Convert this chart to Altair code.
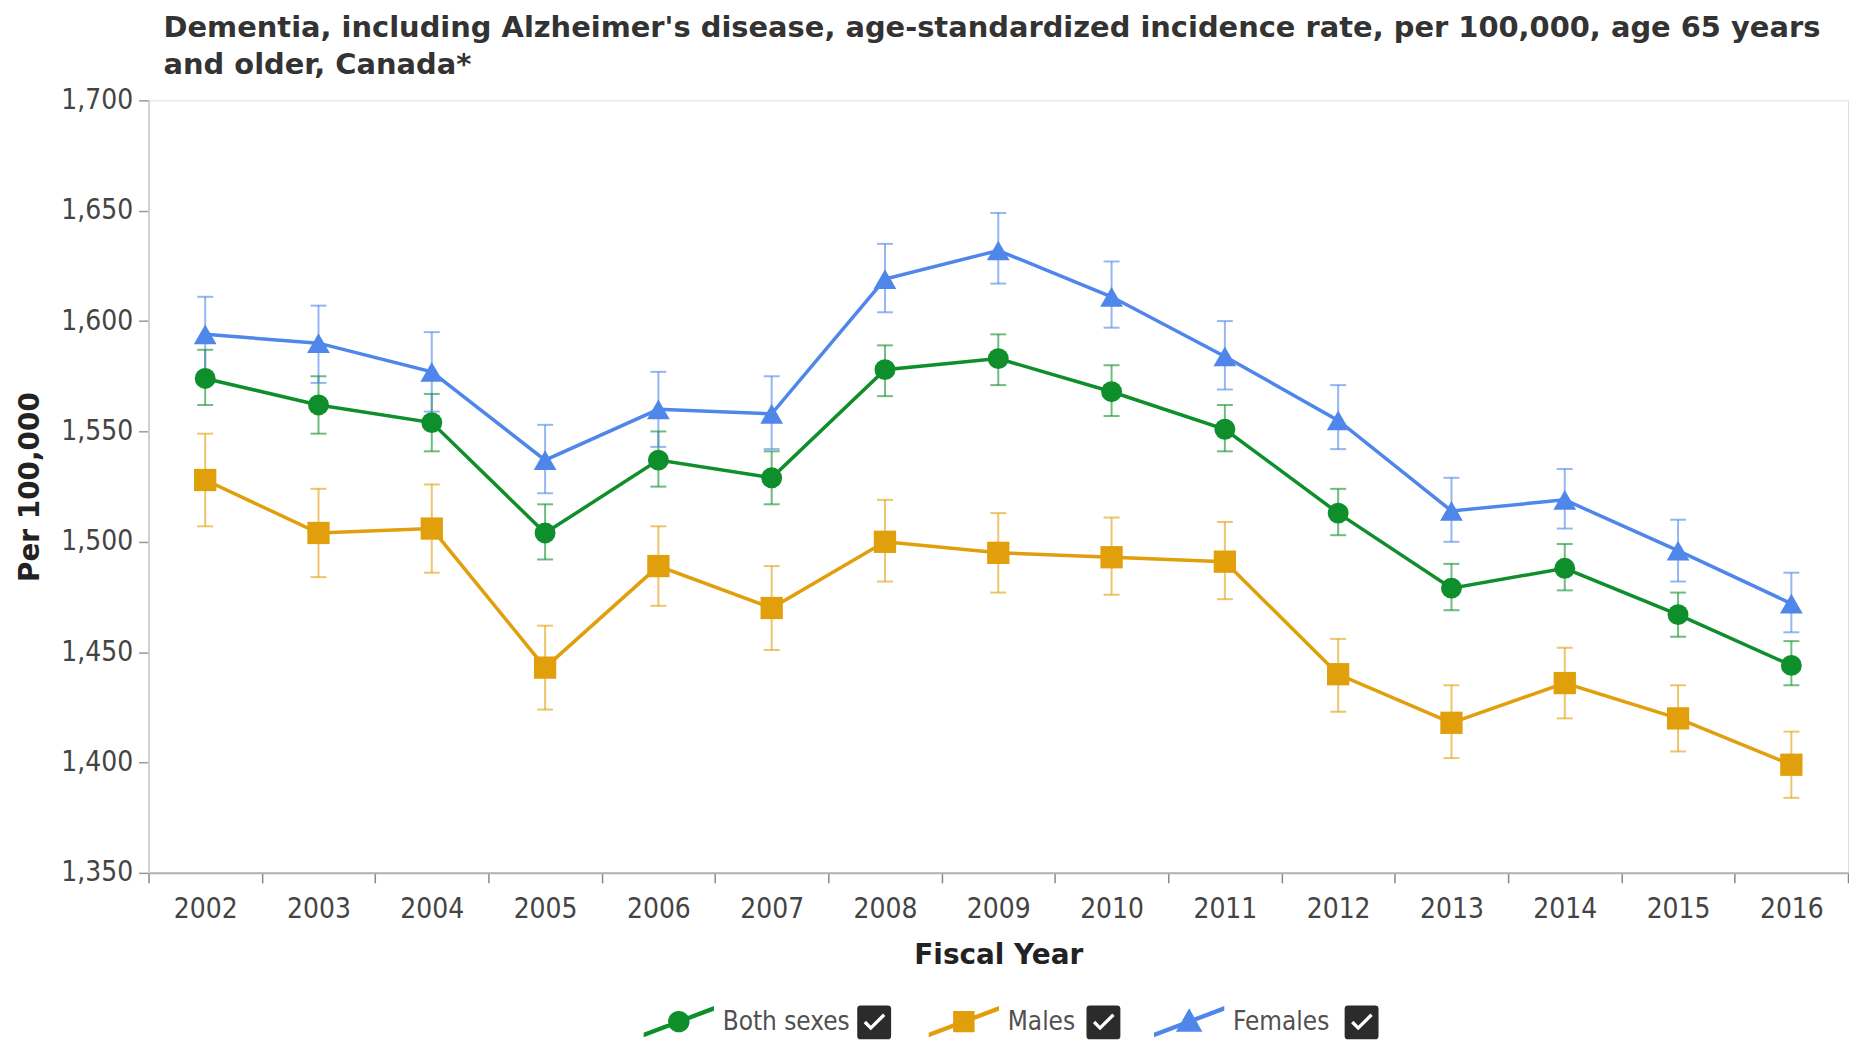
import altair as alt
import pandas as pd

years = ["2002", "2003", "2004", "2005", "2006", "2007", "2008", "2009",
         "2010", "2011", "2012", "2013", "2014", "2015", "2016"]
series_names = ["Both sexes", "Males", "Females"]
series_colors = ["#0e8f2b", "#e09f0b", "#4f86ea"]
series_shapes = ["circle", "square", "triangle-up"]
series_sizes = [440, 500, 520]
# legend glyphs: a short diagonal line with the series marker on it
legend_shapes = [
    "M-3.45,1.15L3.45,-1.45L3.45,-1.15L-3.45,1.45ZM1,0A1,1,0,1,1,-1,0A1,1,0,1,1,1,0Z",
    "M-3.45,1.15L3.45,-1.45L3.45,-1.15L-3.45,1.45ZM-1,-1H1V1H-1Z",
    "M-3.45,1.15L3.45,-1.45L3.45,-1.15L-3.45,1.45ZM0,-1.2L1.2,0.95H-1.2Z",
]
# checked checkbox glyph (dark rounded box with the tick cut out)
checkbox_shape = (
    "M-1,-0.8Q-1,-1,-0.8,-1H0.8Q1,-1,1,-0.8V0.8Q1,1,0.8,1H-0.8Q-1,1,-1,0.8Z"
    "M-0.62,0.05L-0.2,0.47L0.66,-0.38L0.52,-0.52L-0.2,0.2L-0.48,-0.09Z"
)

both = [1574, 1562, 1554, 1504, 1537, 1529, 1578, 1583, 1568, 1551, 1513, 1479, 1488, 1467, 1444]
both_low = [1562, 1549, 1541, 1492, 1525, 1517, 1566, 1571, 1557, 1541, 1503, 1469, 1478, 1457, 1435]
both_high = [1587, 1575, 1567, 1517, 1550, 1541, 1589, 1594, 1580, 1562, 1524, 1490, 1499, 1477, 1455]

males = [1528, 1504, 1506, 1443, 1489, 1470, 1500, 1495, 1493, 1491, 1440, 1418, 1436, 1420, 1399]
males_low = [1507, 1484, 1486, 1424, 1471, 1451, 1482, 1477, 1476, 1474, 1423, 1402, 1420, 1405, 1384]
males_high = [1549, 1524, 1526, 1462, 1507, 1489, 1519, 1513, 1511, 1509, 1456, 1435, 1452, 1435, 1414]

females = [1594, 1590, 1577, 1537, 1560, 1558, 1619, 1632, 1611, 1584, 1555, 1514, 1519, 1496, 1472]
females_low = [1576, 1572, 1559, 1522, 1543, 1542, 1604, 1617, 1597, 1569, 1542, 1500, 1506, 1482, 1459]
females_high = [1611, 1607, 1595, 1553, 1577, 1575, 1635, 1649, 1627, 1600, 1571, 1529, 1533, 1510, 1486]

y_ticks = [1350, 1400, 1450, 1500, 1550, 1600, 1650, 1700]

title_lines = [
    "Dementia, including Alzheimer's disease, age-standardized incidence rate, per 100,000, age 65 years",
    "and older, Canada*",
]

rows = []
for name, vals, lows, highs in [
    ("Both sexes", both, both_low, both_high),
    ("Males", males, males_low, males_high),
    ("Females", females, females_low, females_high),
]:
    for yr, v, lo, hi in zip(years, vals, lows, highs):
        rows.append({"year": yr, "series": name, "value": v, "low": lo, "high": hi})
df = pd.DataFrame(rows)

LABEL_FONT = "DejaVu Sans Condensed"
BOLD_FONT = "DejaVu Sans"
Y_TITLE = "Per 100,000"

x_enc = alt.X(
    "year:O",
    title="Fiscal Year",
    bandPosition=0.5,
    scale=alt.Scale(type="band", paddingInner=0, paddingOuter=0),
    axis=alt.Axis(
        labelAngle=0, tickBand="extent", tickSize=10, labelPadding=13,
        labelFont=LABEL_FONT, labelFontSize=28, labelColor="#444",
        titleFont=BOLD_FONT, titleFontSize=28, titleFontWeight="bold", titleColor="#222",
        titlePadding=18, domainColor="#b0b0b0", domainWidth=2, tickColor="#888", tickWidth=1.5,
    ),
)

y_axis = alt.Axis(
    title=Y_TITLE, values=y_ticks, format=",d", grid=False, tickSize=10, labelPadding=6,
    labelFont=LABEL_FONT, labelFontSize=28, labelColor="#444",
    titleFont=BOLD_FONT, titleFontSize=28, titleFontWeight="bold", titleColor="#222",
    titlePadding=16, domainColor="#d0d0d0", domainWidth=2, tickColor="#999", tickWidth=1.5,
)
y_scale = alt.Scale(domain=[1350, 1700], nice=False, zero=False)

stroke_enc = alt.Stroke("series:N", scale=alt.Scale(domain=series_names, range=series_colors), legend=None)
fill_enc = alt.Fill("series:N", scale=alt.Scale(domain=series_names, range=series_colors), legend=None)

LEGEND_Y = 911
legend = alt.Legend(
    title=None, orient="none", direction="horizontal", legendX=519, legendY=LEGEND_Y,
    symbolSize=400, labelOffset=31, columnPadding=76,
    labelFont=LABEL_FONT, labelFontSize=26, labelColor="#505050", labelLimit=400,
)
# checkbox row: identical boxes, spaced by (hidden) copies of the following label
checkbox_legend = alt.Legend(
    title=None, orient="none", direction="horizontal", legendX=710, legendY=LEGEND_Y - 4,
    symbolType=checkbox_shape, symbolSize=1156, labelOffset=0, columnPadding=124,
    labelFont=LABEL_FONT, labelFontSize=26, labelOpacity=0, labelLimit=400,
    labelExpr="datum.label == 'Females' ? 'Males' : (datum.label == 'Males' ? 'Females' : '')",
)

base = alt.Chart(df)

# legend-only layers: their marks sit outside the y domain and are clipped away
legend_layer = base.mark_point(filled=True, opacity=1, size=400, clip=True).encode(
    x=x_enc,
    y=alt.Y(datum=1000, scale=y_scale, axis=y_axis, title=Y_TITLE),
    color=alt.Color("series:N", scale=alt.Scale(domain=series_names, range=series_colors), legend=legend),
    shape=alt.Shape("series:N", scale=alt.Scale(domain=series_names, range=legend_shapes), legend=legend),
)
checkbox_layer = base.mark_point(
    filled=True, color="#2b2b2b", size=1156, shape=checkbox_shape, clip=True
).encode(
    x=x_enc,
    y=alt.Y(datum=1000, title=Y_TITLE),
    opacity=alt.Opacity("series:O", scale=alt.Scale(domain=series_names[::-1], range=[1, 1, 1]),
                        legend=checkbox_legend),
)

err_rule = base.mark_rule(strokeWidth=2, opacity=0.6).encode(
    x=x_enc, y=alt.Y("low:Q", title=Y_TITLE), y2="high:Q", stroke=stroke_enc,
)
err_lo = base.mark_tick(size=16, thickness=2, opacity=0.6).encode(
    x=x_enc, y=alt.Y("low:Q", title=Y_TITLE), fill=fill_enc,
)
err_hi = base.mark_tick(size=16, thickness=2, opacity=0.6).encode(
    x=x_enc, y=alt.Y("high:Q", title=Y_TITLE), fill=fill_enc,
)
lines = base.mark_line(strokeWidth=3.5).encode(
    x=x_enc, y=alt.Y("value:Q", title=Y_TITLE), stroke=stroke_enc, detail="series:N",
)

point_layers = []
for name, shp, sz in zip(series_names, series_shapes, series_sizes):
    point_layers.append(
        base.transform_filter(alt.datum.series == name)
        .mark_point(filled=True, opacity=1, shape=shp, size=sz)
        .encode(x=x_enc, y=alt.Y("value:Q", title=Y_TITLE), fill=fill_enc)
    )

chart = alt.layer(legend_layer, checkbox_layer, err_rule, err_lo, err_hi, lines, *point_layers).properties(
    width=1705,
    height=775,
    padding={"left": 8, "top": 4, "right": 0, "bottom": 0},
    title=alt.TitleParams(
        text=title_lines, anchor="start", frame="group", dx=15,
        font=BOLD_FONT, fontSize=29, fontWeight="bold", color="#333",
        lineHeight=38, offset=6,
    ),
).configure_view(stroke=None).configure(background="white")

chart.save("out.html", embed_options={"renderer": "svg", "actions": False})
